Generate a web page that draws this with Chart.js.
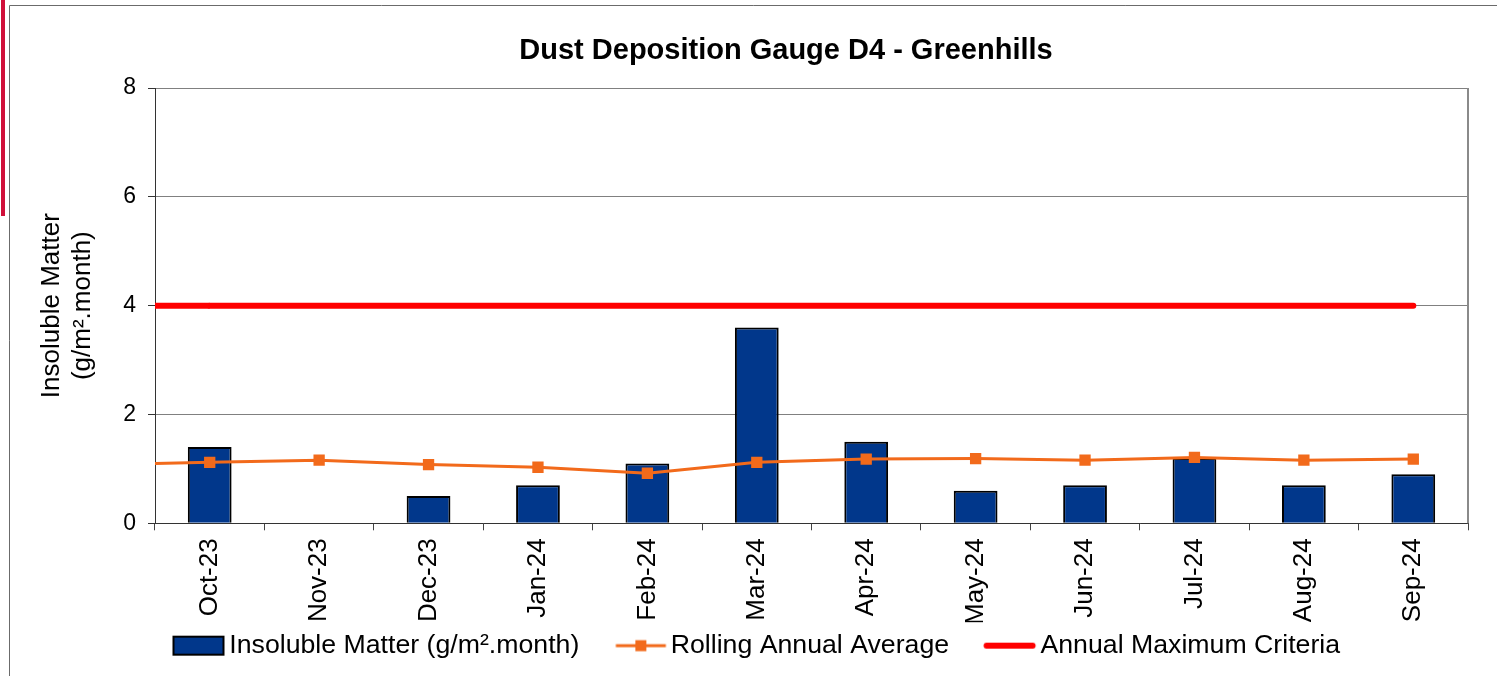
<!DOCTYPE html>
<html>
<head>
<meta charset="utf-8">
<script src="https://cdn.jsdelivr.net/npm/chart.js@4.4.1/dist/chart.umd.min.js"></script>
<style>
  body { margin: 0; background: #fff; }
  canvas { display: block; }
</style>
</head>
<body>
<canvas id="dust" width="1497" height="676"></canvas>
<script>
const months = ["Oct-23", "Nov-23", "Dec-23", "Jan-24", "Feb-24", "Mar-24",
  "Apr-24", "May-24", "Jun-24", "Jul-24", "Aug-24", "Sep-24"];
const insoluble = [1.4, null, 0.5, 0.7, 1.1, 3.6, 1.5, 0.6, 0.7, 1.2, 0.7, 0.9];
const rollingAvg = [1.12, 1.16, 1.08, 1.03, 0.92, 1.12, 1.18, 1.19, 1.16, 1.21, 1.16, 1.18];
const criteria = [4, 4, 4, 4, 4, 4, 4, 4, 4, 4, 4, 4];
// value where each line series meets the left edge of the plot (carried over from before Oct-23)
const leadIn = [null, 1.1, 4];
const yTicks = [0, 2, 4, 6, 8];

const FONT = "'Liberation Sans', Arial, sans-serif";
const NAVY = "#01378b";
const ORANGE = "#f26a1b";
const RED = "#ff0000";

// legend marker box is wider than the swatch; the empty left part acts as the gap between items
const SWATCH_BOX = 68;
const makeSwatch = (kind) => {
	const cw = kind === "avg" ? 50 : 52;
	const c = document.createElement("canvas");
	c.width = SWATCH_BOX * 2;
	c.height = 22;
	const g = c.getContext("2d");
	const x0 = SWATCH_BOX * 1.5 + 8.5 - cw;
	if (kind === "bar") {
		g.fillStyle = NAVY;
		g.fillRect(x0 + 1, 2, cw - 2, 18);
		g.strokeStyle = "#000";
		g.lineWidth = 2;
		g.strokeRect(x0 + 1, 2, cw - 2, 18);
	} else if (kind === "avg") {
		g.strokeStyle = ORANGE;
		g.lineWidth = 3;
		g.beginPath();
		g.moveTo(x0, 11);
		g.lineTo(x0 + cw, 11);
		g.stroke();
		g.fillStyle = ORANGE;
		g.fillRect(x0 + cw / 2 - 5.5, 5.5, 11, 11);
	} else {
		g.strokeStyle = RED;
		g.lineWidth = 6;
		g.lineCap = "round";
		g.beginPath();
		g.moveTo(x0 + 3, 11);
		g.lineTo(x0 + cw - 3, 11);
		g.stroke();
	}
	return c;
};
const swatches = [makeSwatch("bar"), makeSwatch("avg"), makeSwatch("crit")];

const pageFrame = {
	id: "pageFrame",
	beforeDraw(chart) {
		const { ctx, width, height } = chart;
		ctx.save();
		ctx.fillStyle = "#fff";
		ctx.fillRect(0, 0, width, height);
		ctx.fillStyle = "#d0103a";
		ctx.fillRect(1, 0, 4, 216);
		ctx.strokeStyle = "#6b6b6b";
		ctx.lineWidth = 1;
		ctx.beginPath();
		ctx.moveTo(9.5, height);
		ctx.lineTo(9.5, 5.5);
		ctx.lineTo(width, 5.5);
		ctx.stroke();
		ctx.restore();
	},
	afterDraw(chart) {
		const { ctx, chartArea } = chart;
		ctx.save();
		ctx.strokeStyle = "#8a8a8a";
		ctx.lineWidth = 2;
		ctx.beginPath();
		ctx.moveTo(chartArea.right, chartArea.top);
		ctx.lineTo(chartArea.right, chartArea.bottom);
		ctx.stroke();
		ctx.fillStyle = "#000";
		ctx.font = "bold 29px " + FONT;
		ctx.textAlign = "center";
		ctx.textBaseline = "middle";
		ctx.fillText("Dust Deposition Gauge D4 - Greenhills", 786, 51);
		ctx.restore();
	},
};

// lines start at the plot's left edge, under the line series but over the bars
const leadInLines = {
	id: "leadInLines",
	afterDatasetDraw(chart, args) {
		if (args.index !== 0) return;
		const { ctx, chartArea, scales } = chart;
		ctx.save();
		[1, 2].forEach((i) => {
			const ds = chart.data.datasets[i];
			const first = chart.getDatasetMeta(i).data[0];
			ctx.strokeStyle = ds.borderColor;
			ctx.lineWidth = ds.borderWidth;
			ctx.beginPath();
			ctx.moveTo(chartArea.left, scales.y.getPixelForValue(leadIn[i]));
			ctx.lineTo(first.x, first.y);
			ctx.stroke();
		});
		ctx.restore();
	},
};

new Chart(document.getElementById("dust"), {
	type: "bar",
	data: {
		labels: months,
		datasets: [
			{
				type: "bar",
				label: "Insoluble Matter (g/m².month)",
				data: insoluble,
				backgroundColor: NAVY,
				borderColor: "#000",
				borderWidth: 2,
				categoryPercentage: 1,
				barPercentage: 0.4,
				order: 3,
			},
			{
				type: "line",
				label: "Rolling Annual Average",
				data: rollingAvg,
				borderColor: ORANGE,
				backgroundColor: ORANGE,
				borderWidth: 3,
				pointStyle: "rect",
				pointRadius: 8,
				pointBorderWidth: 0,
				tension: 0,
				order: 1,
			},
			{
				type: "line",
				label: "Annual Maximum Criteria",
				data: criteria,
				borderColor: RED,
				borderWidth: 6,
				borderCapStyle: "round",
				pointRadius: 0,
				order: 2,
			},
		],
	},
	options: {
		responsive: false,
		animation: false,
		devicePixelRatio: 1,
		layout: { padding: { left: 20, right: 29, top: 88, bottom: 7 } },
		scales: {
			x: {
				offset: true,
				grid: { offset: true, drawOnChartArea: false, tickLength: 7, color: "#444" },
				border: { color: "#333" },
				ticks: {
					autoSkip: false,
					minRotation: 90,
					maxRotation: 90,
					padding: 8,
					color: "#000",
					font: { family: FONT, size: 26 },
				},
				afterFit: (s) => { s.height = 99; },
			},
			y: {
				min: yTicks[0],
				max: yTicks[yTicks.length - 1],
				afterBuildTicks: (s) => { s.ticks = yTicks.map((v) => ({ value: v })); },
				grid: { color: "#808080", tickColor: "#333", tickLength: 7 },
				border: { color: "#333" },
				ticks: { padding: 12, color: "#000", font: { family: FONT, size: 23 } },
				title: {
					display: true,
					text: ["Insoluble Matter", "(g/m².month)"],
					color: "#000",
					padding: { top: 16, bottom: 0 },
					font: { family: FONT, size: 26 },
				},
				afterFit: (s) => { s.width = 135; },
			},
		},
		plugins: {
			title: { display: false },
			tooltip: { enabled: false },
			legend: {
				position: "bottom",
				labels: {
					usePointStyle: true,
					pointStyleWidth: SWATCH_BOX,
					padding: 10,
					color: "#000",
					font: { family: FONT, size: 26.7 },
					generateLabels: (chart) => chart.data.datasets.map((ds, i) => ({
						text: ds.label,
						pointStyle: swatches[i],
						fontColor: "#000",
						lineWidth: 0,
						strokeStyle: "transparent",
						fillStyle: "transparent",
						hidden: false,
						datasetIndex: i,
					})),
				},
			},
		},
	},
	plugins: [pageFrame, leadInLines],
});
</script>
</body>
</html>
